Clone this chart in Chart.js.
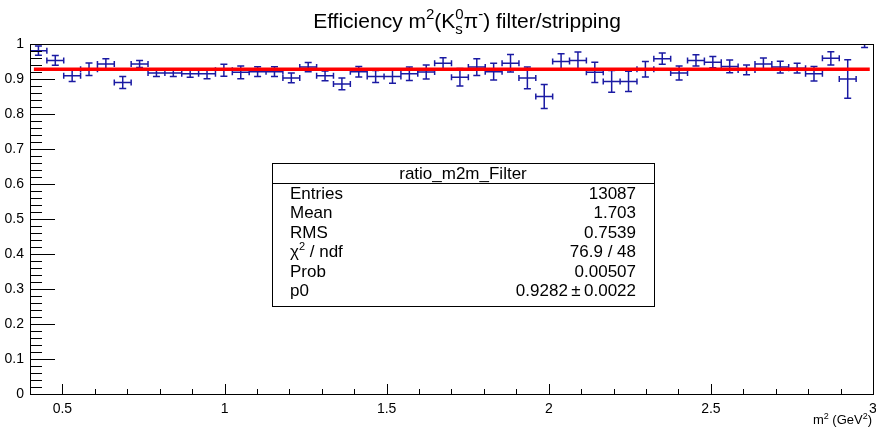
<!DOCTYPE html>
<html>
<head>
<meta charset="utf-8">
<script src="https://cdn.jsdelivr.net/npm/chart.js@4.4.0/dist/chart.umd.min.js"></script>
<style>
html, body { margin: 0; padding: 0; background: #fff; }
#wrap { width: 876px; height: 432px; }
</style>
</head>
<body>
<div id="wrap"><canvas id="eff"></canvas></div>
<script>
// bin centres of ratio_m2m_Filter (m^2 in GeV^2)
const binCenters = [
  0.426, 0.478, 0.530, 0.582, 0.634, 0.686, 0.738, 0.790, 0.842, 0.894,
  0.946, 0.998, 1.050, 1.102, 1.154, 1.206, 1.258, 1.310, 1.362, 1.414,
  1.466, 1.518, 1.570, 1.622, 1.674, 1.726, 1.778, 1.830, 1.882, 1.934,
  1.986, 2.038, 2.090, 2.142, 2.194, 2.246, 2.298, 2.350, 2.402, 2.454,
  2.506, 2.558, 2.610, 2.662, 2.714, 2.766, 2.818, 2.870, 2.922, 2.974
];
const effValues = [
  0.981, 0.953, 0.909, 0.928, 0.943, 0.890, 0.943, 0.917, 0.917, 0.915,
  0.915, 0.925, 0.919, 0.921, 0.921, 0.903, 0.934, 0.909, 0.886, 0.921,
  0.907, 0.907, 0.915, 0.920, 0.945, 0.905, 0.934, 0.921, 0.945, 0.903,
  0.850, 0.950, 0.953, 0.919, 0.893, 0.893, 0.928, 0.958, 0.917, 0.953,
  0.948, 0.936, 0.926, 0.943, 0.934, 0.931, 0.915, 0.959, 0.900, 1.050
];
const effErrors = [
  0.013, 0.014, 0.016, 0.018, 0.015, 0.017, 0.010, 0.010, 0.010, 0.010,
  0.014, 0.017, 0.018, 0.014, 0.014, 0.014, 0.013, 0.014, 0.017, 0.015,
  0.017, 0.019, 0.019, 0.020, 0.016, 0.025, 0.024, 0.024, 0.025, 0.031,
  0.034, 0.022, 0.024, 0.029, 0.031, 0.029, 0.022, 0.016, 0.020, 0.016,
  0.016, 0.018, 0.014, 0.017, 0.017, 0.014, 0.021, 0.019, 0.055, 0.060
];
const binHalfWidth = 0.026;

// pol0 fit
const fitValue = 0.9282;
const fitRange = [0.412, 2.99];

const xTickValues = [0.5, 1, 1.5, 2, 2.5, 3];
const statsTitle = 'ratio_m2m_Filter';
const statsLabels = ['Entries', 'Mean', 'RMS', 'chi2', 'Prob', 'p0'];
const statsValues = ['13087', '1.703', '0.7539', '76.9 / 48', '0.00507', '0.9282\u2009\u00b1\u20090.0022'];

const FONT = '"Liberation Sans", Arial, Helvetica, sans-serif';
const BLUE = '#1a1aa3';

function fnt(size) { return size + 'px ' + FONT; }

// draws a run of text pieces, each with own size and vertical shift
function drawRich(ctx, parts, x, y, align) {
  let total = 0;
  const widths = parts.map(p => {
    ctx.font = fnt(p.size);
    let w = 0;
    if (p.stack) {
      w = Math.max(...p.stack.map(s => ctx.measureText(s.t).width));
    } else {
      w = ctx.measureText(p.t).width;
    }
    total += w;
    return w;
  });
  let cx = x;
  if (align === 'center') cx = x - total / 2;
  if (align === 'right') cx = x - total;
  ctx.textAlign = 'left';
  ctx.textBaseline = 'alphabetic';
  parts.forEach((p, i) => {
    ctx.font = fnt(p.size);
    if (p.stack) {
      p.stack.forEach(s => ctx.fillText(s.t, cx, y + s.dy));
    } else {
      ctx.fillText(p.t, cx, y + (p.dy || 0));
    }
    cx += widths[i];
  });
}

const rootStyle = {
  id: 'rootStyle',
  beforeDatasetsDraw(chart) {
    const { ctx, chartArea: a, scales: { x, y } } = chart;
    ctx.save();
    ctx.beginPath();
    ctx.rect(a.left, a.top, a.right - a.left, a.bottom - a.top);
    ctx.clip();
    ctx.strokeStyle = BLUE;
    ctx.lineWidth = 1.5;
    ctx.beginPath();
    binCenters.forEach((c, i) => {
      const px = x.getPixelForValue(c);
      const py = y.getPixelForValue(effValues[i]);
      const l = x.getPixelForValue(c - binHalfWidth);
      const r = x.getPixelForValue(c + binHalfWidth);
      const t = y.getPixelForValue(effValues[i] + effErrors[i]);
      const b = y.getPixelForValue(effValues[i] - effErrors[i]);
      ctx.moveTo(l, py); ctx.lineTo(r, py);
      ctx.moveTo(px, t); ctx.lineTo(px, b);
      ctx.moveTo(l, py - 3); ctx.lineTo(l, py + 3);
      ctx.moveTo(r, py - 3); ctx.lineTo(r, py + 3);
      ctx.moveTo(px - 3.5, t); ctx.lineTo(px + 3.5, t);
      ctx.moveTo(px - 3.5, b); ctx.lineTo(px + 3.5, b);
    });
    ctx.stroke();
    ctx.restore();
  },
  afterDraw(chart) {
    const { ctx, chartArea: a, scales: { x, y } } = chart;
    ctx.save();
    ctx.strokeStyle = '#000';
    ctx.lineWidth = 1;
    // frame
    ctx.strokeRect(Math.round(a.left) + 0.5, Math.round(a.top) + 0.5,
      Math.round(a.right - a.left), Math.round(a.bottom - a.top));
    ctx.beginPath();
    // x ticks, pointing inwards
    for (let k = 5; k <= 30; k++) {
      const px = Math.round(x.getPixelForValue(k / 10)) + 0.5;
      const len = k % 5 === 0 ? 10 : 5;
      ctx.moveTo(px, a.bottom); ctx.lineTo(px, a.bottom - len);
    }
    // y ticks
    for (let k = 0; k <= 50; k++) {
      const py = Math.round(y.getPixelForValue(k / 50)) + 0.5;
      const len = k % 5 === 0 ? 25 : 12;
      ctx.moveTo(a.left, py); ctx.lineTo(a.left + len, py);
    }
    ctx.stroke();

    ctx.fillStyle = '#000';
    // title
    drawRich(ctx, [
      { t: 'Efficiency m', size: 21 },
      { t: '2', size: 15, dy: -9 },
      { t: '(K', size: 21 },
      { stack: [{ t: '0', dy: -9 }, { t: 's', dy: 6 }], size: 15 },
      { t: '\u03c0', size: 21 },
      { t: '-', size: 15, dy: -9 },
      { t: ') filter/stripping', size: 21 }
    ], 467, 28, 'center');

    // x axis title
    drawRich(ctx, [
      { t: 'm', size: 13 },
      { t: '2', size: 9, dy: -5 },
      { t: ' (GeV', size: 13 },
      { t: '2', size: 9, dy: -5 },
      { t: ')', size: 13 }
    ], 872, 424, 'right');

    // stats box
    const bx = 272, by = 163, bw = 382, bh = 143;
    ctx.fillStyle = '#fff';
    ctx.fillRect(bx, by, bw, bh);
    ctx.fillStyle = '#000';
    ctx.strokeRect(bx + 0.5, by + 0.5, bw, bh);
    ctx.beginPath();
    ctx.moveTo(bx, by + 20.5); ctx.lineTo(bx + bw, by + 20.5);
    ctx.stroke();
    ctx.font = fnt(17);
    ctx.textBaseline = 'alphabetic';
    ctx.textAlign = 'center';
    ctx.fillText(statsTitle, bx + bw / 2, by + 16);
    statsLabels.forEach((lab, i) => {
      const base = by + 36 + i * 19.4;
      if (lab === 'chi2') {
        drawRich(ctx, [
          { t: '\u03c7', size: 17 },
          { t: '2', size: 11, dy: -7 },
          { t: ' / ndf', size: 17 }
        ], bx + 18, base, 'left');
      } else {
        ctx.font = fnt(17);
        ctx.textAlign = 'left';
        ctx.fillText(lab, bx + 18, base);
      }
      ctx.font = fnt(17);
      ctx.textAlign = 'right';
      ctx.fillText(statsValues[i], bx + bw - 18, base);
    });
    ctx.restore();
  }
};

new Chart(document.getElementById('eff'), {
  type: 'scatter',
  data: {
    datasets: [
      {
        label: 'ratio_m2m_Filter',
        data: binCenters.map((c, i) => ({ x: c, y: effValues[i] })),
        pointRadius: 0,
        showLine: false
      },
      {
        type: 'line',
        label: 'fit',
        data: [{ x: fitRange[0], y: fitValue }, { x: fitRange[1], y: fitValue }],
        borderColor: '#ff0000',
        borderWidth: 3.5,
        pointRadius: 0,
        fill: false
      }
    ]
  },
  options: {
    responsive: true,
    maintainAspectRatio: false,
    animation: false,
    events: [],
    layout: { padding: { top: 44, right: 3, left: 0, bottom: 0 } },
    plugins: { legend: { display: false }, tooltip: { enabled: false } },
    scales: {
      x: {
        type: 'linear',
        min: 0.4,
        max: 3.0,
        afterBuildTicks: s => { s.ticks = xTickValues.map(v => ({ value: v })); },
        afterFit: s => { s.height = 38; s.paddingLeft = 0; s.paddingRight = 0; },
        grid: { display: false, drawTicks: false },
        border: { display: false },
        ticks: {
          padding: 7,
          color: '#000',
          maxRotation: 0,
          autoSkip: false,
          font: { family: FONT, size: 14 },
          callback: v => String(v)
        }
      },
      y: {
        min: 0,
        max: 1,
        afterFit: s => { s.width = 30; },
        grid: { display: false, drawTicks: false },
        border: { display: false },
        ticks: {
          stepSize: 0.1,
          padding: 6,
          color: '#000',
          font: { family: FONT, size: 14 },
          callback: v => String(Math.round(v * 10) / 10)
        }
      }
    }
  },
  plugins: [rootStyle]
});
</script>
</body>
</html>
